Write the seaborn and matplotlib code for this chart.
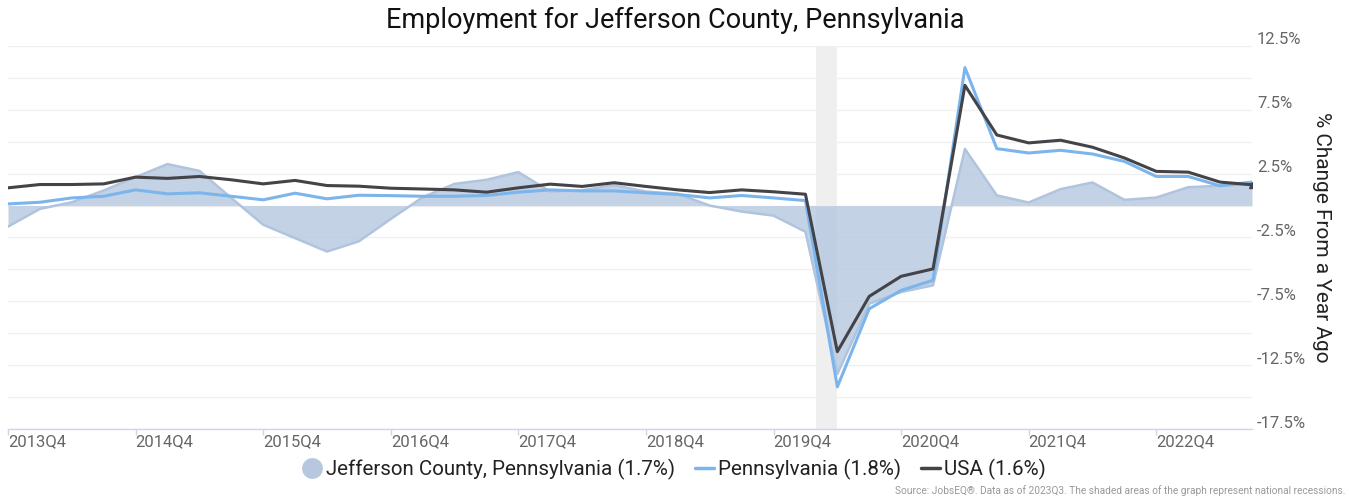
import matplotlib.pyplot as plt
import matplotlib.transforms as mtransforms
from matplotlib.lines import Line2D
import numpy as np
import pandas as pd
import seaborn as sns

# quarterly labels, 2013Q4 .. 2023Q3
quarters = [f"{y}Q{q}" for y in range(2013, 2024) for q in range(1, 5)][3:43]

jefferson = [-1.65, -0.26, 0.26, 1.18, 2.23, 3.25, 2.72, 0.6, -1.5, -2.55,
             -3.6, -2.8, -1.05, 0.65, 1.7, 2.02, 2.62, 1.1, 1.2, 1.6,
             1.1, 0.92, 0.0, -0.47, -0.79, -2.05, -13.2, -7.69, -6.77, -6.25,
             4.44, 0.8, 0.24, 1.29, 1.81, 0.45, 0.63, 1.44, 1.55, 1.71]
pennsylvania = [0.13, 0.26, 0.6, 0.73, 1.23, 0.92, 1.0, 0.73, 0.45, 0.97,
                0.53, 0.81, 0.78, 0.73, 0.73, 0.79, 1.05, 1.23, 1.15, 1.15,
                1.0, 0.87, 0.6, 0.79, 0.6, 0.39, -14.2, -8.08, -6.64, -5.85,
                10.81, 4.46, 4.12, 4.33, 4.04, 3.46, 2.28, 2.28, 1.55, 1.84]
usa = [1.39, 1.65, 1.65, 1.7, 2.23, 2.13, 2.28, 2.02, 1.7, 1.97,
       1.57, 1.52, 1.36, 1.3, 1.23, 1.05, 1.39, 1.68, 1.5, 1.79,
       1.5, 1.23, 1.02, 1.23, 1.08, 0.89, -11.44, -7.11, -5.54, -4.96,
       9.42, 5.53, 4.91, 5.12, 4.57, 3.73, 2.68, 2.62, 1.84, 1.63]

tick_labels = ["2013Q4", "2014Q4", "2015Q4", "2016Q4", "2017Q4",
               "2018Q4", "2019Q4", "2020Q4", "2021Q4", "2022Q4"]
y_labeled = [12.5, 7.5, 2.5, -2.5, -7.5, -12.5, -17.5]
recession = (25.33, 26.0)  # in quarter-index units

legend_labels = ["Jefferson County, Pennsylvania (1.7%)",
                 "Pennsylvania (1.8%)", "USA (1.6%)"]

df = pd.DataFrame({"q": np.arange(len(quarters)), "jeff": jefferson,
                   "pa": pennsylvania, "usa": usa})

sns.set_style("white")
plt.rcParams['font.family'] = ['Roboto', 'DejaVu Sans']

fig = plt.figure(figsize=(13.49, 5.0), dpi=100)
ax = fig.add_axes([8/1349, 1-429/500, (1252-8)/1349, (429-46)/500])

ax.axvspan(*recession, color='#efefef', lw=0, zorder=0)

ax.fill_between(df["q"], df["jeff"], 0, color='#b0c4de', alpha=0.75, lw=0, zorder=2)
sns.lineplot(data=df, x="q", y="jeff", ax=ax, color='#b0c4de', lw=1.8, zorder=3)
sns.lineplot(data=df, x="q", y="pa", ax=ax, color='#7cb5ec', lw=2.2, zorder=4)
sns.lineplot(data=df, x="q", y="usa", ax=ax, color='#434348', lw=2.2, zorder=5)
ax.plot(df["q"].iloc[-1], usa[-1], marker='^', ms=5, color='#434348', zorder=6)

ax.set_xlim(0, len(quarters) - 1)
ax.set_ylim(-17.5, 12.5)
ax.set_xlabel("")
ax.set_ylabel("")

# y grid every 2.5, labels every 5 placed just above the grid line
ax.set_yticks(np.arange(-17.5, 12.51, 2.5))
ax.set_yticklabels([])
ax.tick_params(axis='y', length=0)
ax.grid(axis='y', color='#f0f0f0', lw=1)
ax.set_axisbelow(True)
off = mtransforms.ScaledTranslation(5/100, 6/100, fig.dpi_scale_trans)
for v in y_labeled:
    ax.text(1.0, v, f"{v}%", transform=ax.get_yaxis_transform() + off,
            ha='left', va='center', fontsize=12, color='#666666')

ax.set_xticks([quarters.index(t) for t in tick_labels])
ax.set_xticklabels(tick_labels, ha='left', fontsize=12, color='#666666')
ax.tick_params(axis='x', length=4, width=1, color='#ccd6eb', pad=0, bottom=True)

for s in ['top', 'left', 'right']:
    ax.spines[s].set_visible(False)
ax.spines['bottom'].set_color('#ccd6eb')
ax.spines['bottom'].set_linewidth(1)

fig.text(675/1349, 1-20/500, "Employment for Jefferson County, Pennsylvania",
         ha='center', va='center', fontsize=19.5, color='#111111')
fig.text(1322/1349, 1-237/500, "% Change From a Year Ago", rotation=-90,
         ha='center', va='center', fontsize=15, color='#222222')
fig.text(1345/1349, 1-491/500,
         "Source: JobsEQ®. Data as of 2023Q3. The shaded areas of the graph represent national recessions.",
         ha='right', va='center', fontsize=7.3, color='#999999')

handles = [Line2D([], [], marker='o', ls='none', ms=15, mfc='#b7c8de', mec='none'),
           Line2D([], [], color='#7cb5ec', lw=2.5),
           Line2D([], [], color='#434348', lw=2.5)]
leg = fig.legend(handles, legend_labels, loc='center', bbox_to_anchor=(0.5, 1-469/500),
                 ncol=3, frameon=False, fontsize=14.75, handlelength=0.9,
                 handletextpad=0.2, columnspacing=1.0)
for t in leg.get_texts():
    t.set_color('#222222')

fig.savefig("out.png", dpi=100)
